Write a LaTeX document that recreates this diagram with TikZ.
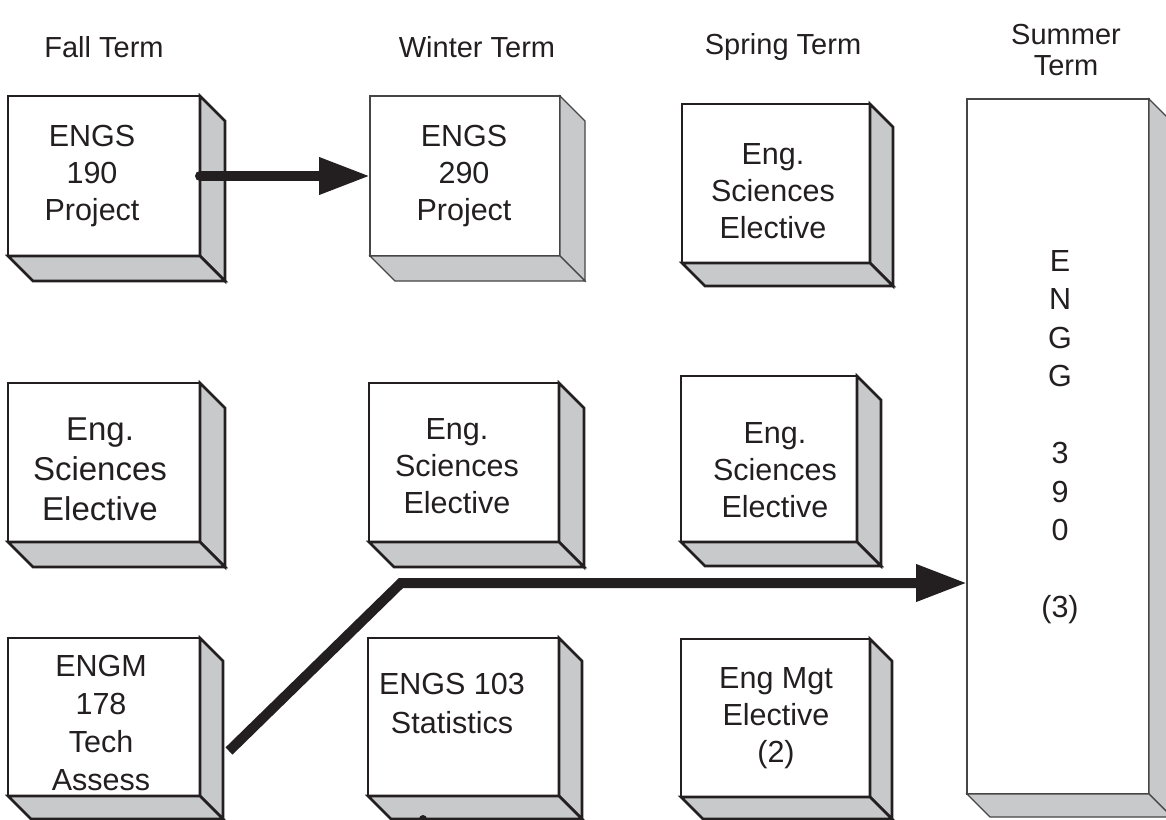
\documentclass[tikz,border=0pt]{standalone}
\usepackage{fontspec}
\setmainfont{Liberation Sans}
\usetikzlibrary{arrows.meta}
\definecolor{sidegray}{RGB}{200,201,203}
\definecolor{ink}{RGB}{35,31,32}
\definecolor{thinline}{RGB}{70,70,70}
\tikzset{
  frontface/.style={draw=ink, fill=white, line width=2.6pt, inner sep=0pt, outer sep=0pt, line join=miter},
  sideface/.style={draw=ink, fill=sidegray, line width=2.6pt, line join=miter},
  thinbox/.style={draw=thinline, line width=1.1pt},
  boxtext/.style={align=center, text=ink, font=\fontsize{30.5}{37}\selectfont, inner sep=0pt},
  bigtext/.style={align=center, text=ink, font=\fontsize{33}{40}\selectfont, inner sep=0pt},
  headtext/.style={align=center, text=ink, font=\fontsize{29}{31}\selectfont, inner sep=0pt},
  conn/.style={draw=ink, line width=10pt, -{Triangle[length=51pt,width=35pt]}},
}
\newcommand{\prismbox}[7]{%
  \node[frontface,#7,anchor=north west,minimum width={#4-#2},minimum height={#5-#3}] (#1) at (#2,#3) {};
  \filldraw[sideface,#7] (#1.north east) -- ++(#6,#6) -- ([shift={(#6,#6)}]#1.south east) -- (#1.south east) -- cycle;
  \filldraw[sideface,#7] (#1.south west) -- ++(#6,#6) -- ([shift={(#6,#6)}]#1.south east) -- (#1.south east) -- cycle;
}
\begin{document}
\begin{tikzpicture}[x=1pt,y=-1pt]
\useasboundingbox (0,0) rectangle (1166,819);
\clip (0,0) rectangle (1166,819);
\fill[white] (0,0) rectangle (1166,819);

% headers
\node[headtext] (hfall) at (104,47) {Fall Term};
\node[headtext] (hwin) at (477,47) {Winter Term};
\node[headtext] (hspr) at (783,47) {Spring Term};
\node[headtext] (hsum) at (1066,50) {Summer\\Term};

% boxes
\prismbox{f1}{8}{96}{200}{256}{25}{}
\prismbox{w1}{370}{96}{560}{256}{25}{thinbox}
\prismbox{s1}{682}{104}{870}{263}{23}{}
\prismbox{f2}{8}{383}{200}{542}{25}{}
\prismbox{w2}{369}{383}{559}{542}{25}{}
\prismbox{s2}{681}{376}{857}{542}{24}{}
\prismbox{f3}{8}{638}{200}{796}{23}{}
\prismbox{w3}{368}{638}{559}{796}{23}{}
\prismbox{s3}{681}{639}{870}{797}{22}{}
\prismbox{su}{967}{99}{1149}{794}{23}{thinbox}

% texts
\node[boxtext] (f1t) at (92,176) {ENGS\\190\\Project};
\node[boxtext] (w1t) at (464,176) {ENGS\\290\\Project};
\node[boxtext] (s1t) at (773,191) {Eng.\\Sciences\\Elective};
\node[bigtext] (f2t) at (100,469) {Eng.\\Sciences\\Elective};
\node[boxtext] (w2t) at (457,466) {Eng.\\Sciences\\Elective};
\node[boxtext] (s2t) at (775,470) {Eng.\\Sciences\\Elective};
\node[boxtext,font=\fontsize{30.5}{38}\selectfont] (f3t) at (101,723) {ENGM\\178\\Tech\\Assess};
\node[boxtext,font=\fontsize{30.5}{39}\selectfont] (w3t) at (452,703) {ENGS 103\\Statistics};
\node[boxtext] (s3t) at (776,718) {Eng Mgt\\Elective\\(2)};
\node[boxtext,font=\fontsize{30.5}{38.5}\selectfont] (sut) at (1060,437) {E\\N\\G\\G\\[38.5pt]3\\9\\0\\[38.5pt](3)};

% small mark
\fill[ink] (423,819) circle (4);

% connectors
\draw[conn, line cap=round] (f1.east) -- (w1.west);
\coordinate (a2s) at (229,751);
\coordinate (a2b) at (401,583);
\draw[conn] (a2s) -- (a2b) -- (su.west |- a2b);
\end{tikzpicture}
\end{document}
